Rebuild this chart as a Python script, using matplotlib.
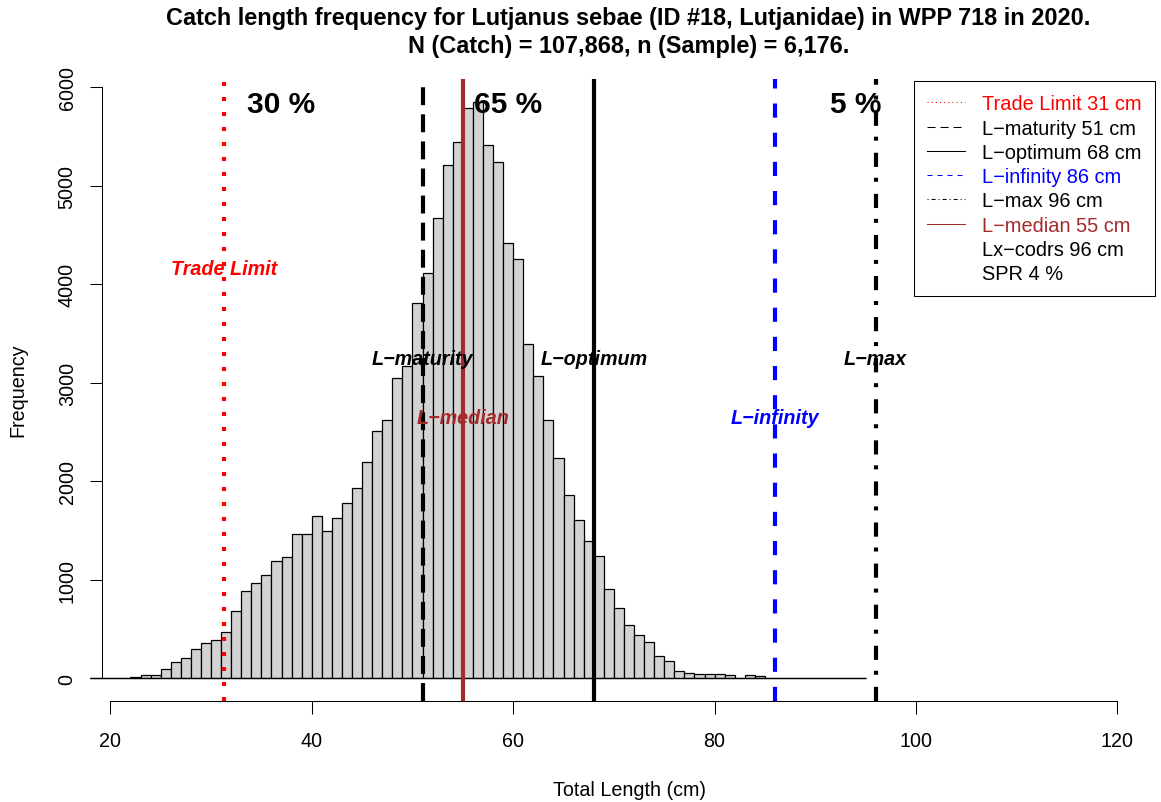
import numpy as np
import matplotlib
matplotlib.use('Agg')
import matplotlib.pyplot as plt
from matplotlib.lines import Line2D

plt.rcParams['font.family'] = ['Liberation Sans', 'DejaVu Sans']

# Length bins (left edge, 1 cm wide) and catch frequency per bin
bin_left = np.arange(18, 95)
counts = [0, 0, 0, 0,
          15, 30, 30, 94, 162, 206, 301, 355, 390, 472,
          688, 883, 972, 1050, 1192, 1228, 1464, 1464, 1644, 1492,
          1627, 1776, 1928, 2195, 2513, 2622, 3050, 3167, 3806, 4111,
          4669, 5210, 5447, 5789, 5846, 5417, 5237, 4418, 4260, 3390,
          3065, 2625, 2233, 1857, 1610, 1390, 1238, 905, 718, 546,
          438, 365, 223, 173, 77, 57, 40, 47, 44, 30, 0, 30, 20,
          0, 0, 0, 0, 0, 0, 0, 0, 0, 0]

# Reference lengths (cm)
trade_limit = 31.3
l_maturity = 51
l_optimum = 68
l_infinity = 86
l_max = 96
l_median = 55
lx_codrs = 96
spr = 4

# share of catch in each region
pct_labels = ['30 %', '65 %', '5 %']
pct_x = [37, 59.5, 94]

xticks = [20, 40, 60, 80, 100, 120]
yticks = [0, 1000, 2000, 3000, 4000, 5000, 6000]

brown = '#A52A2A'
lw = 3.0
fs = 14.2

fig = plt.figure(figsize=(11.61, 8.03), dpi=100)
ax = fig.add_axes([0.069, 0.1262, 0.9259, 0.7745])

# histogram
ax.bar(bin_left, counts, width=1, align='edge', color='#D3D3D3',
       edgecolor='black', linewidth=0.9, zorder=2)
ax.hlines(0, bin_left[0], bin_left[-1] + 1, color='black', linewidth=0.9, zorder=2)

# vertical reference lines (dash patterns scaled by linewidth)
ax.axvline(trade_limit, color='red', lw=lw, linestyle=(0, (0.96, 2.64)), zorder=3)
ax.axvline(l_maturity, color='black', lw=lw, linestyle=(0, (4.3, 2.2)), zorder=3)
ax.axvline(l_optimum, color='black', lw=lw, zorder=3)
ax.axvline(l_infinity, color='blue', lw=lw, linestyle=(0, (3.4, 3.6)), zorder=3)
ax.axvline(l_max, color='black', lw=lw, linestyle=(0, (3.4, 2.9, 0.96, 2.6)), zorder=3)
ax.axvline(l_median, color=brown, lw=lw, zorder=3)

# line labels
lab_fs = 14.2
ax.text(trade_limit, 4165, 'Trade Limit', color='red', fontsize=lab_fs,
        fontweight='bold', fontstyle='italic', ha='center', va='center', zorder=4)
ax.text(l_maturity, 3250, 'L\u2212maturity', color='black', fontsize=lab_fs,
        fontweight='bold', fontstyle='italic', ha='center', va='center', zorder=4)
ax.text(l_optimum, 3250, 'L\u2212optimum', color='black', fontsize=lab_fs,
        fontweight='bold', fontstyle='italic', ha='center', va='center', zorder=4)
ax.text(l_max, 3250, 'L\u2212max', color='black', fontsize=lab_fs,
        fontweight='bold', fontstyle='italic', ha='center', va='center', zorder=4)
ax.text(l_median, 2650, 'L\u2212median', color=brown, fontsize=lab_fs,
        fontweight='bold', fontstyle='italic', ha='center', va='center', zorder=4)
ax.text(l_infinity, 2650, 'L\u2212infinity', color='blue', fontsize=lab_fs,
        fontweight='bold', fontstyle='italic', ha='center', va='center', zorder=4)

for lbl, xp in zip(pct_labels, pct_x):
    ax.text(xp, 5830, lbl, fontsize=21.5, fontweight='bold',
            ha='center', va='center', zorder=4)

# legend
handles = [
    Line2D([], [], color='red', lw=0.75, linestyle=(0, (1, 3))),
    Line2D([], [], color='black', lw=0.75, linestyle=(0, (7.7, 4.8))),
    Line2D([], [], color='black', lw=0.75),
    Line2D([], [], color='blue', lw=0.75, linestyle=(0, (4.8, 4.8))),
    Line2D([], [], color='black', lw=0.75, linestyle=(0, (1, 2.9, 3.8, 2.9))),
    Line2D([], [], color=brown, lw=0.75),
    Line2D([], [], color='none'),
    Line2D([], [], color='none'),
]
labels = ['Trade Limit %d cm' % round(trade_limit),
          'L\u2212maturity %d cm' % l_maturity,
          'L\u2212optimum %d cm' % l_optimum,
          'L\u2212infinity %d cm' % l_infinity,
          'L\u2212max %d cm' % l_max,
          'L\u2212median %d cm' % l_median,
          'Lx\u2212codrs %d cm' % lx_codrs,
          'SPR %d %%' % spr]
leg = ax.legend(handles, labels, loc='upper right', bbox_to_anchor=(1, 0.996),
                borderaxespad=0, fontsize=14.4, fancybox=False, framealpha=1,
                edgecolor='black', handlelength=1.9, handletextpad=0.85,
                labelspacing=0.265, borderpad=0.65,
                labelcolor=['red', 'black', 'black', 'blue', 'black', brown, 'black', 'black'])
leg.get_frame().set_linewidth(0.75)
leg.set_zorder(5)

# axes styling like base R
ax.set_xlim(17.0, 123.74)
ax.set_ylim(-227, 6087)
ax.set_xticks(xticks)
ax.set_yticks(yticks)
for s in ['top', 'right']:
    ax.spines[s].set_visible(False)
ax.spines['left'].set_position(('data', 19.146))
ax.spines['bottom'].set_bounds(20, 120)
ax.spines['left'].set_bounds(0, 6000)
ax.spines['bottom'].set_linewidth(0.75)
ax.spines['left'].set_linewidth(0.75)
ax.tick_params(axis='both', length=9, width=0.75, labelsize=fs)
ax.tick_params(axis='x', pad=13)
ax.tick_params(axis='y', pad=9)
for t in ax.get_yticklabels():
    t.set_rotation(90)
    t.set_va('center')

ax.set_xlabel('Total Length (cm)', fontsize=fs)
ax.set_ylabel('Frequency', fontsize=fs)
ax.xaxis.set_label_coords(0.511, -0.127)
ax.yaxis.set_label_coords(-0.0494, 0.5)

xc = 0.5412
fig.text(xc, 1 - 18 / 803, 'Catch length frequency for Lutjanus sebae (ID #18, Lutjanidae) in WPP 718 in 2020.',
         fontsize=16.9, fontweight='bold', ha='center', va='center')
fig.text(xc, 1 - 47 / 803, 'N (Catch) = 107,868, n (Sample) = 6,176.',
         fontsize=16.9, fontweight='bold', ha='center', va='center')

fig.savefig('out.png', dpi=100)
